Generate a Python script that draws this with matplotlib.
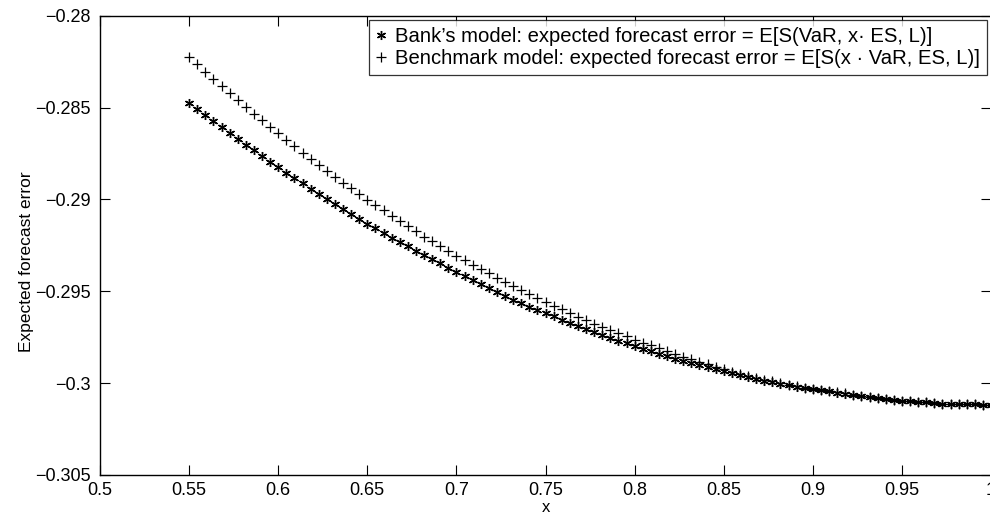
import matplotlib
matplotlib.use("Agg")
import matplotlib.pyplot as plt
import numpy as np

plt.rcParams['font.family'] = ['Liberation Sans', 'DejaVu Sans']

# x grid: 100 points from 0.55 to 1.0
x_start = 0.55
x_end = 1.0
n_points = 100

bank_model = [
    -0.28474, -0.28508, -0.28541, -0.28574, -0.28606, -0.28639, -0.28670, -0.28702, -0.28733, -0.28764,
    -0.28795, -0.28825, -0.28855, -0.28884, -0.28913, -0.28942, -0.28972, -0.29000, -0.29026, -0.29053,
    -0.29080, -0.29106, -0.29132, -0.29158, -0.29183, -0.29208, -0.29232, -0.29256, -0.29279, -0.29302,
    -0.29325, -0.29348, -0.29372, -0.29396, -0.29419, -0.29441, -0.29463, -0.29484, -0.29505, -0.29525,
    -0.29545, -0.29564, -0.29583, -0.29601, -0.29619, -0.29637, -0.29654, -0.29671, -0.29687, -0.29704,
    -0.29721, -0.29738, -0.29754, -0.29770, -0.29784, -0.29799, -0.29813, -0.29827, -0.29840, -0.29853,
    -0.29866, -0.29879, -0.29890, -0.29901, -0.29912, -0.29925, -0.29936, -0.29947, -0.29958, -0.29968,
    -0.29978, -0.29987, -0.29995, -0.30003, -0.30011, -0.30019, -0.30026, -0.30033, -0.30039, -0.30045,
    -0.30051, -0.30057, -0.30063, -0.30069, -0.30076, -0.30082, -0.30087, -0.30091, -0.30095, -0.30099,
    -0.30102, -0.30105, -0.30108, -0.30111, -0.30113, -0.30114, -0.30115, -0.30116, -0.30117, -0.30117,
]

benchmark_model = [
    -0.28223, -0.28265, -0.28306, -0.28346, -0.28385, -0.28423, -0.28461, -0.28498, -0.28534, -0.28570,
    -0.28606, -0.28641, -0.28676, -0.28710, -0.28745, -0.28778, -0.28812, -0.28844, -0.28876, -0.28908,
    -0.28940, -0.28970, -0.29001, -0.29030, -0.29060, -0.29089, -0.29118, -0.29147, -0.29174, -0.29202,
    -0.29228, -0.29254, -0.29280, -0.29306, -0.29331, -0.29356, -0.29380, -0.29403, -0.29426, -0.29449,
    -0.29472, -0.29494, -0.29516, -0.29537, -0.29558, -0.29579, -0.29599, -0.29619, -0.29639, -0.29657,
    -0.29676, -0.29694, -0.29712, -0.29729, -0.29746, -0.29763, -0.29779, -0.29795, -0.29810, -0.29825,
    -0.29840, -0.29855, -0.29870, -0.29885, -0.29898, -0.29912, -0.29925, -0.29937, -0.29949, -0.29960,
    -0.29972, -0.29981, -0.29990, -0.29999, -0.30008, -0.30016, -0.30024, -0.30031, -0.30038, -0.30044,
    -0.30050, -0.30056, -0.30062, -0.30069, -0.30076, -0.30082, -0.30087, -0.30091, -0.30095, -0.30099,
    -0.30102, -0.30105, -0.30108, -0.30111, -0.30113, -0.30114, -0.30115, -0.30116, -0.30117, -0.30117,
]

x_ticks = [0.5, 0.55, 0.6, 0.65, 0.7, 0.75, 0.8, 0.85, 0.9, 0.95, 1.0]
x_tick_labels = ["0.5", "0.55", "0.6", "0.65", "0.7", "0.75", "0.8", "0.85", "0.9", "0.95", "1"]
y_ticks = [-0.305, -0.3, -0.295, -0.29, -0.285, -0.28]
y_tick_labels = ["\u22120.305", "\u22120.3", "\u22120.295", "\u22120.29", "\u22120.285", "\u22120.28"]

legend_labels = [
    "Bank\u2019s model: expected forecast error = E[S(VaR, x\u00b7 ES, L)]",
    "Benchmark model: expected forecast error = E[S(x \u00b7 VaR, ES, L)]",
]

x = np.linspace(x_start, x_end, n_points)

fig = plt.figure(figsize=(9.9, 5.16), dpi=100)
ax = fig.add_axes([100 / 990, 41 / 516, 0.9, 459.3 / 516])

ax.plot(x, bank_model, linestyle='none', marker=(6, 2, 0), markersize=6.5,
        markeredgewidth=1.0, color='black', label=legend_labels[0])
ax.plot(x, benchmark_model, linestyle='none', marker='+', markersize=6.5,
        markeredgewidth=0.9, color='black', label=legend_labels[1])

ax.set_xlim(0.5, 1.0)
ax.set_ylim(-0.305, -0.28)
ax.set_xticks(x_ticks)
ax.set_xticklabels(x_tick_labels)
ax.set_yticks(y_ticks)
ax.set_yticklabels(y_tick_labels)

ax.tick_params(axis='both', direction='in', length=7, width=0.8, labelsize=13,
               top=True, right=True)
ax.tick_params(axis='x', pad=5)
ax.tick_params(axis='y', pad=7)
for s in ax.spines.values():
    s.set_linewidth(1.0)

ax.set_xlabel("x", fontsize=12, labelpad=1)
ax.set_ylabel("Expected forecast error", fontsize=12.5)
ax.yaxis.set_label_coords(-0.074, 0.464)

leg = ax.legend(loc='upper right', fontsize=14.6, frameon=True, fancybox=False,
                edgecolor='black', handlelength=0.5, handletextpad=0.4,
                borderpad=0.35, labelspacing=0.15, borderaxespad=0.15,
                bbox_to_anchor=(0.9985, 0.997))
leg.get_frame().set_linewidth(0.9)

fig.savefig("out.png", dpi=100)
